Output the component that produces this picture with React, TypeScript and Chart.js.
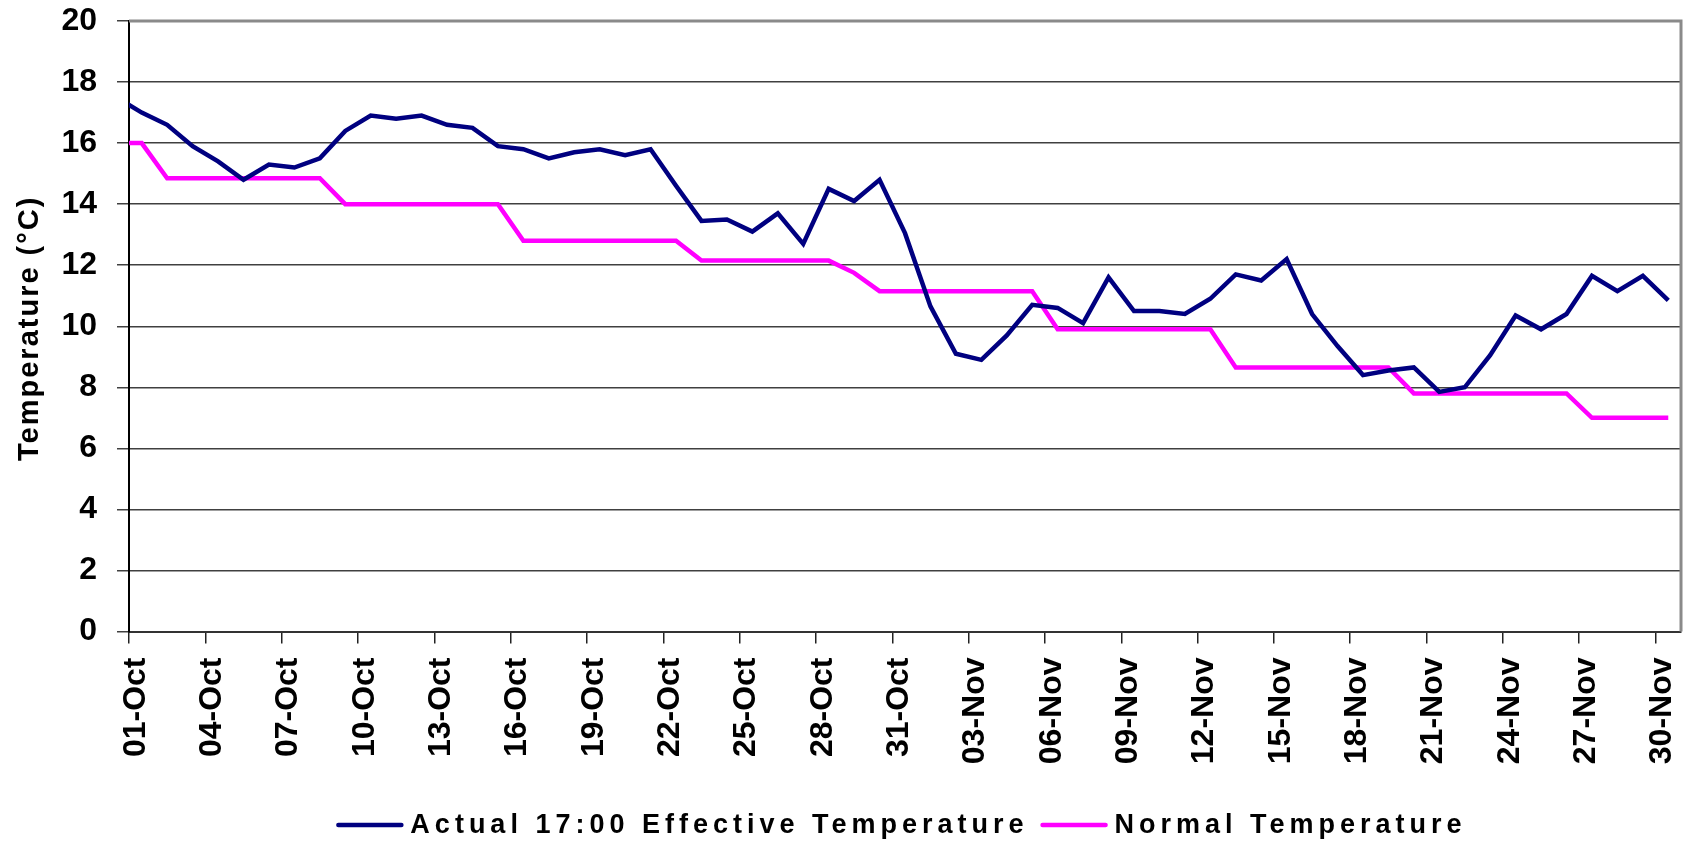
import React, { useEffect, useRef } from "react";
import { Chart, registerables } from "chart.js";

Chart.register(...registerables);

// Daily values, first entry is 30-Sep (partly hidden left of the axis), then 01-Oct ... 30-Nov
const actualTemp = [
  17.5,
  17.0, 16.6, 15.9, 15.4, 14.8, 15.3, 15.2, 15.5, 16.4, 16.9, 16.8, 16.9, 16.6, 16.5, 15.9,
  15.8, 15.5, 15.7, 15.8, 15.6, 15.8, 14.6, 13.45, 13.5, 13.1, 13.7, 12.7, 14.5, 14.1, 14.8, 13.05,
  10.65, 9.1, 8.9, 9.7, 10.7, 10.6, 10.1, 11.6, 10.5, 10.5, 10.4, 10.9, 11.7, 11.5, 12.2,
  10.4, 9.35, 8.4, 8.55, 8.65, 7.85, 8.0, 9.05, 10.35, 9.9, 10.4, 11.65, 11.15, 11.65, 10.85,
];

const normalTemp = [
  16.0,
  16.0, 14.85, 14.85, 14.85, 14.85, 14.85, 14.85, 14.85, 14.0, 14.0, 14.0, 14.0, 14.0, 14.0, 14.0,
  12.8, 12.8, 12.8, 12.8, 12.8, 12.8, 12.8, 12.15, 12.15, 12.15, 12.15, 12.15, 12.15, 11.75, 11.15, 11.15,
  11.15, 11.15, 11.15, 11.15, 11.15, 9.9, 9.9, 9.9, 9.9, 9.9, 9.9, 9.9, 8.65, 8.65, 8.65,
  8.65, 8.65, 8.65, 8.65, 7.8, 7.8, 7.8, 7.8, 7.8, 7.8, 7.8, 7.0, 7.0, 7.0, 7.0,
];

const xTickLabels = [
  "01-Oct", "04-Oct", "07-Oct", "10-Oct", "13-Oct", "16-Oct", "19-Oct", "22-Oct",
  "25-Oct", "28-Oct", "31-Oct", "03-Nov", "06-Nov", "09-Nov", "12-Nov", "15-Nov",
  "18-Nov", "21-Nov", "24-Nov", "27-Nov", "30-Nov",
];

const seriesLabels = ["Actual 17:00 Effective Temperature", "Normal Temperature"];
const seriesColors = ["#000080", "#FF00FF"];

const FONT = '"Liberation Sans", Arial, sans-serif';
const TICK_STEP = 3;
const DAYS_SHOWN = 61;

// first array entry is the day before 01-Oct; points sit at mid-day
const toPoints = (arr: number[]) => arr.map((v, i) => ({ x: i - 1 + 0.5, y: v }));

const framePlugin = {
  id: "frame",
  beforeDatasetsDraw(chart: any) {
    const { ctx, chartArea } = chart;
    ctx.save();
    ctx.strokeStyle = "#8a8a8a";
    ctx.lineWidth = 3;
    ctx.beginPath();
    ctx.moveTo(chartArea.left, chartArea.top);
    ctx.lineTo(chartArea.right, chartArea.top);
    ctx.lineTo(chartArea.right, chartArea.bottom);
    ctx.stroke();
    ctx.restore();
  },
};

const titlePlugin = {
  id: "yTitle",
  afterDraw(chart: any) {
    const { ctx, chartArea } = chart;
    ctx.save();
    ctx.font = `bold 29px ${FONT}`;
    (ctx as any).letterSpacing = "2px";
    ctx.fillStyle = "#000";
    ctx.textAlign = "center";
    ctx.textBaseline = "alphabetic";
    ctx.translate(38, (chartArea.top + chartArea.bottom) / 2 + 2);
    ctx.rotate(-Math.PI / 2);
    ctx.fillText("Temperature (°C)", 0, 0);
    ctx.restore();
  },
};

const legendPlugin = {
  id: "customLegend",
  afterDraw(chart: any) {
    const { ctx, chartArea } = chart;
    const spacing = 5;
    ctx.save();
    ctx.font = `bold 27px ${FONT}`;
    (ctx as any).letterSpacing = `${spacing}px`;
    const items = chart.data.datasets.map((ds: any) => ({ text: ds.label, color: ds.borderColor }));
    const lineLen = 63;
    const gapLT = 9;
    const gapItem = 19;
    const widths = items.map((it: any) => ctx.measureText(it.text).width - spacing);
    const total =
      items.reduce((s: number, _it: any, i: number) => s + lineLen + gapLT + widths[i], 0) +
      gapItem * (items.length - 1);
    let x = (chartArea.left + chartArea.right) / 2 - 5 - total / 2;
    const y = 825;
    items.forEach((it: any, i: number) => {
      ctx.strokeStyle = it.color;
      ctx.lineWidth = 4.5;
      ctx.lineCap = "round";
      ctx.beginPath();
      ctx.moveTo(x, y);
      ctx.lineTo(x + lineLen, y);
      ctx.stroke();
      x += lineLen + gapLT;
      ctx.fillStyle = "#000";
      ctx.textBaseline = "middle";
      ctx.textAlign = "left";
      ctx.fillText(it.text, x, y + 1);
      x += widths[i] + gapItem;
    });
    ctx.restore();
  },
};

export default function App() {
  const canvasRef = useRef<HTMLCanvasElement | null>(null);

  useEffect(() => {
    document.body.style.margin = "0";
    const canvas = canvasRef.current;
    if (!canvas) return;
    const chart = new Chart(canvas, {
      type: "line",
      data: {
        datasets: [
          {
            label: seriesLabels[0],
            data: toPoints(actualTemp),
            borderColor: seriesColors[0],
            backgroundColor: seriesColors[0],
            borderWidth: 4.5,
            pointRadius: 0,
            tension: 0,
            clip: 0,
          },
          {
            label: seriesLabels[1],
            data: toPoints(normalTemp),
            borderColor: seriesColors[1],
            backgroundColor: seriesColors[1],
            borderWidth: 4.5,
            pointRadius: 0,
            tension: 0,
            clip: 0,
          },
        ],
      },
      options: {
        animation: false,
        responsive: false,
        devicePixelRatio: 1,
        layout: { padding: { left: 0, right: 9, top: 21, bottom: 60 } },
        plugins: {
          legend: { display: false },
          tooltip: { enabled: false },
        },
        scales: {
          x: {
            type: "linear",
            min: 0,
            max: DAYS_SHOWN,
            afterFit: (s: any) => {
              s.height = 843 - 60 - 631.5;
              s.paddingLeft = 0;
              s.paddingRight = 0;
            },
            afterBuildTicks: (s: any) => {
              s.ticks = xTickLabels.map((_l, i) => ({ value: i * TICK_STEP }));
            },
            ticks: {
              stepSize: TICK_STEP,
              autoSkip: false,
              includeBounds: false,
              minRotation: 90,
              maxRotation: 90,
              padding: 14,
              labelOffset: 7,
              color: "#000",
              font: { family: FONT, size: 32, weight: "bold" },
              callback: (v: any) => xTickLabels[Math.round(Number(v) / TICK_STEP)] ?? "",
            },
            grid: {
              drawOnChartArea: false,
              tickLength: 12,
              color: "#222",
              lineWidth: 1.5,
            },
            border: { color: "#333", width: 2 },
          },
          y: {
            min: 0,
            max: 20,
            afterFit: (s: any) => {
              s.width = 129;
              s.paddingTop = 0;
              s.paddingBottom = 0;
            },
            ticks: {
              stepSize: 2,
              padding: 20,
              color: "#000",
              font: { family: FONT, size: 32, weight: "bold" },
            },
            grid: {
              color: "#404040",
              lineWidth: 1.5,
              tickLength: 12,
            },
            border: { color: "#000", width: 2 },
          },
        },
      },
      plugins: [framePlugin, titlePlugin, legendPlugin],
    } as any);
    return () => chart.destroy();
  }, []);

  return (
    <div style={{ width: 1690, height: 843 }}>
      <canvas ref={canvasRef} width={1690} height={843} style={{ display: "block" }} />
    </div>
  );
}
